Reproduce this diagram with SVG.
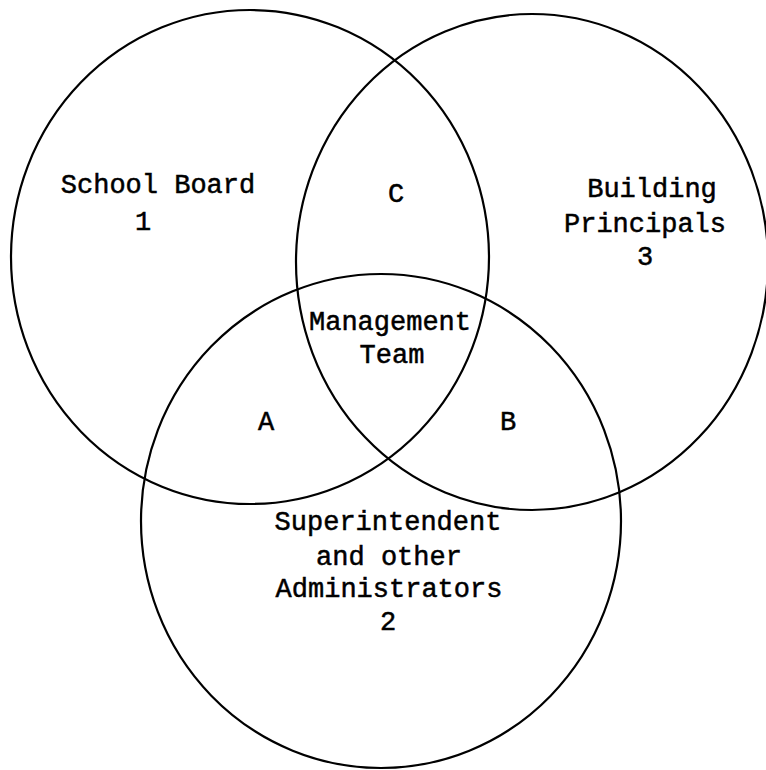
<svg xmlns="http://www.w3.org/2000/svg" width="766" height="770" viewBox="0 0 766 770">
<style>
.c{fill:none;stroke:#000;stroke-width:2.2}
.t{font-family:"Liberation Mono","Courier New",monospace;font-size:27px;fill:#000;stroke:#000;stroke-width:0.5;text-anchor:middle}
</style>
<rect width="766" height="770" fill="#fff"/>
<g id="board">
<ellipse class="c" cx="250" cy="257" rx="239" ry="247"/>
<text class="t" x="158" y="193">School Board</text>
<text class="t" x="143" y="230">1</text>
</g>
<g id="principals">
<ellipse class="c" cx="532" cy="262" rx="236" ry="248"/>
<text class="t" x="652" y="197">Building</text>
<text class="t" x="645" y="232">Principals</text>
<text class="t" x="645" y="265">3</text>
</g>
<g id="superintendent">
<ellipse class="c" cx="381" cy="521" rx="240" ry="247"/>
<text class="t" x="388" y="530">Superintendent</text>
<text class="t" x="389" y="565">and other</text>
<text class="t" x="389" y="597">Administrators</text>
<text class="t" x="388" y="630">2</text>
</g>
<g id="regions">
<text class="t" x="396" y="202">C</text>
<text class="t" x="390" y="330">Management</text>
<text class="t" x="392" y="363">Team</text>
<text class="t" x="266" y="430">A</text>
<text class="t" x="508" y="430">B</text>
</g>
</svg>
